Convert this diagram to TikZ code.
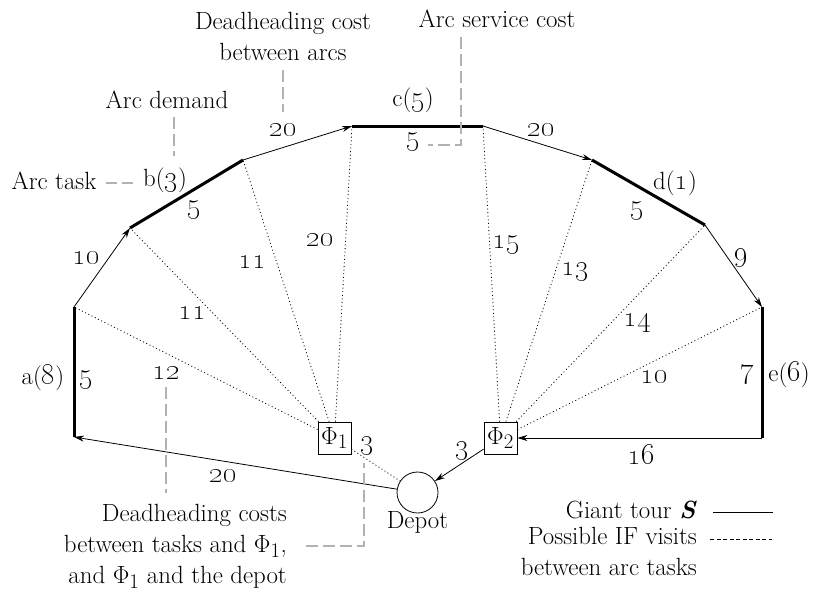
\documentclass[tikz,border=0pt]{standalone}
\usetikzlibrary{arrows.meta}
\newcommand\osn[1]{{\fontsize{28}{31}\selectfont\oldstylenums{#1}}}
\begin{document}
\begin{tikzpicture}[x=1pt,y=-1pt,
  every node/.style={font=\fontsize{24.88}{31}\selectfont, inner sep=0pt},
  task/.style={line width=3pt},
  tour/.style={line width=0.8pt,-{Stealth[length=10pt,width=6pt]}},
  ifv/.style={line width=0.8pt,dash pattern=on 1pt off 2.6pt},
  note/.style={draw=gray!60, line width=2pt, dash pattern=on 12pt off 5pt},
  facility/.style={draw, line width=0.8pt, minimum width=33pt, minimum height=32pt, inner sep=0pt}
]
\useasboundingbox (0,0) rectangle (816,595);
% arc end points
\coordinate (a1) at (74,307);  \coordinate (a2) at (74,437);
\coordinate (b1) at (130,228); \coordinate (b2) at (243,160);
\coordinate (c1) at (352,126); \coordinate (c2) at (483,126);
\coordinate (d1) at (592,160); \coordinate (d2) at (705,225);
\coordinate (e1) at (762,307); \coordinate (e2) at (762,438);
% facilities and depot
\node[facility] (p1) at (334.5,438) {$\Phi_1$};
\node[facility] (p2) at (500.5,438) {$\Phi_2$};
\node[draw, circle, minimum size=41pt, line width=0.8pt] (dep) at (417.5,492.5) {};
\node (deplbl) at (417.5,522) {Depot};
% possible IF visits
\foreach \t in {a1,b1,b2,c1}{\draw[ifv] (p1) -- (\t);}
\draw[ifv] (p1) -- (dep);
\foreach \t in {c2,d1,d2,e1}{\draw[ifv] (p2) -- (\t);}
% tasks
\draw[task] (a1) -- (a2);
\draw[task] (b1) -- (b2);
\draw[task] (c1) -- (c2);
\draw[task] (d1) -- (d2);
\draw[task] (e1) -- (e2);
% giant tour
\draw[tour] (a1) -- (b1);
\draw[tour] (b2) -- (c1);
\draw[tour] (c2) -- (d1);
\draw[tour] (d2) -- (e1);
\draw[tour] (e2) -- (p2);
\draw[tour] (p2) -- (dep);
\draw[tour] (dep) -- (a2);
% task labels
\node (la) at (43,378) {a(\osn{8})};
\node (la5) at (86,380) {\osn{5}};
\node (lb) at (165,180) {b(\osn{3})};
\node (lb5) at (194,210) {\osn{5}};
\node (lc) at (413,100) {c(\osn{5})};
\node (lc5) at (413,142) {\osn{5}};
\node (ld) at (675,183) {d(\osn{1})};
\node (ld5) at (637,211) {\osn{5}};
\node (le7) at (747,375) {\osn{7}};
\node (le) at (789,375) {e(\osn{6})};
% tour costs
\node at (86,258) {\osn{10}};
\node at (283,130) {\osn{20}};
\node at (541,130) {\osn{20}};
\node at (741,258) {\osn{9}};
\node at (641,455) {\osn{16}};
\node at (462,451) {\osn{3}};
\node at (223,476) {\osn{20}};
% IF costs
\node at (367,446) {\osn{3}};
\node at (192,313) {\osn{11}};
\node at (252,262) {\osn{11}};
\node at (320,240) {\osn{20}};
\node (l12) at (166,373) {\osn{12}};
\node at (506,245) {\osn{15}};
\node at (575,272) {\osn{13}};
\node at (637,323) {\osn{14}};
\node at (654,377) {\osn{10}};
% annotations
\node (ntask) at (54,181) {Arc task};
\coordinate (nt1) at (106,183); \coordinate (nt2) at (138,183);
\draw[note, dash pattern=on 11pt off 5pt] (nt1) -- (nt2);
\node (ndem) at (167,100) {Arc demand};
\coordinate (nd1) at (174,117); \coordinate (nd2) at (174,156);
\draw[note] (nd1) -- (nd2);
\node[align=center] (ndh) at (283,36) {Deadheading cost\\between arcs};
\coordinate (nh1) at (283,70); \coordinate (nh2) at (283,112);
\draw[note] (nh1) -- (nh2);
\node (nsc) at (497,19) {Arc service cost};
\coordinate (ns1) at (461,37); \coordinate (ns2) at (461,145); \coordinate (ns3) at (428,145);
\draw[note] (ns1) -- (ns2) -- (ns3);
\coordinate (n12a) at (166,387); \coordinate (n12b) at (166,493);
\draw[note] (n12a) -- (n12b);
\node[anchor=east, align=right] (ndh2) at (287,546) {Deadheading costs\\between tasks and $\Phi_1$,\\and $\Phi_1$ and the depot};
\coordinate (nq1) at (306,546); \coordinate (nq2) at (364,546); \coordinate (nq3) at (364,463);
\draw[note] (nq1) -- (nq2) -- (nq3);
% legend
\node[anchor=east] (lg1) at (697,510) {Giant tour \textbf{\textit{S}}};
\coordinate (lg1a) at (713,512); \coordinate (lg1b) at (773,512);
\draw[line width=0.8pt] (lg1a) -- (lg1b);
\node[anchor=east, align=right] (lg2) at (697,551) {Possible IF visits\\between arc tasks};
\coordinate (lg2a) at (710,539); \coordinate (lg2b) at (772,539);
\draw[line width=0.8pt, dash pattern=on 4pt off 2.5pt] (lg2a) -- (lg2b);
\end{tikzpicture}
\end{document}
